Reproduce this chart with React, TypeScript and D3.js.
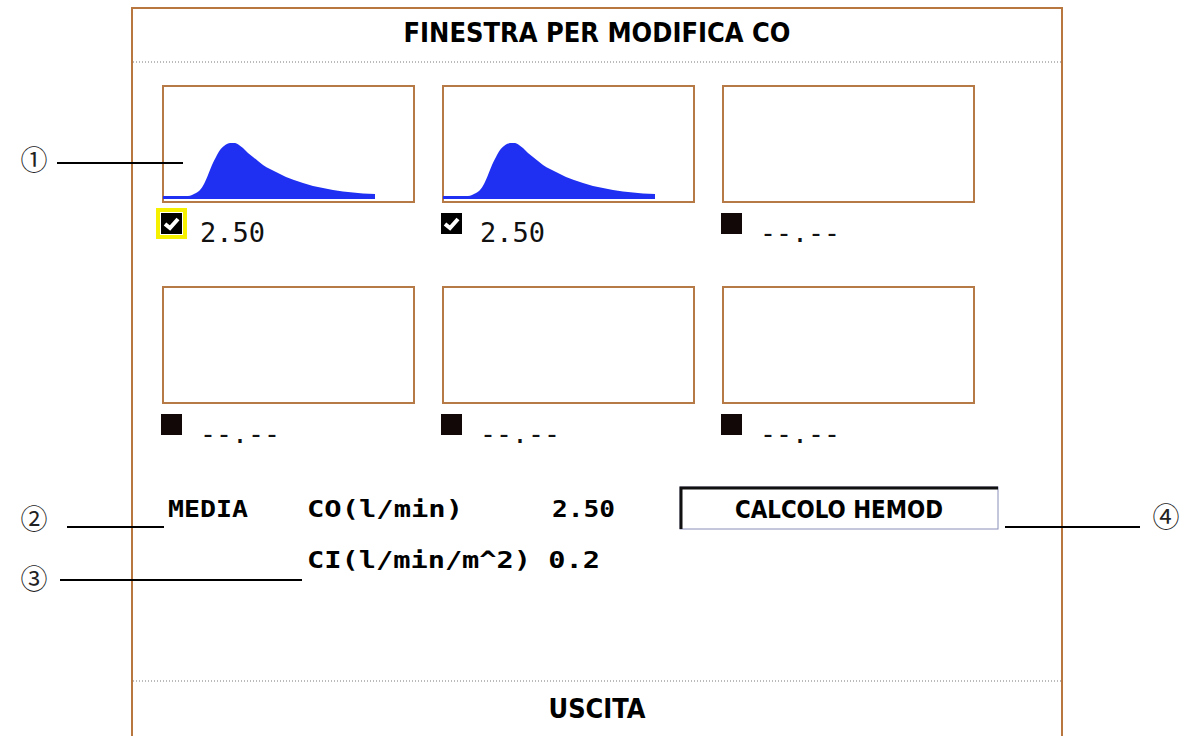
import React from "react";
import * as d3 from "d3";

// ---- data ----
const title = "FINESTRA PER MODIFICA CO";
const exitLabel = "USCITA";
const buttonLabel = "CALCOLO HEMOD";
const curveValues = ["2.50", "2.50", "--.--", "--.--", "--.--", "--.--"];
const curveChecked = [true, true, false, false, false, false];
const curveSelected = [true, false, false, false, false, false];
// thermodilution curve samples (time index, amplitude)
const waveT = [0, 25, 29, 33, 37, 41, 45, 49, 53, 57, 61, 65, 69, 72, 76, 80, 85, 90, 95, 100, 107, 115, 123, 131, 140, 150, 160, 170, 180, 190, 200, 212];
const waveV = [0, 0, 1, 3, 6, 12, 21, 31, 39, 46, 50, 52.5, 53, 53, 51, 48, 43, 39, 35, 31, 27, 23, 19, 16, 13, 10, 8, 6, 4.5, 3.5, 2.5, 2];
const curveHasWave = [true, true, false, false, false, false];
const meanLabel = "MEDIA";
const coLabel = "CO(l/min)";
const coValue = "2.50";
const ciLabel = "CI(l/min/m^2) 0.2";
const callouts = ["①", "②", "③", "④"];

const W = 1184, H = 736;
const frameColor = "#b8773e";
const boxColor = "#b57a45";
const blue = "#1f30f2";

const cols = [163, 443, 723];
const rows = [86, 287];
const boxW = 251, boxH = 116;

const xWave = d3.scaleLinear().domain([0, 250]).range([0, 250]);
const yWave = d3.scaleLinear().domain([0, 53]).range([196, 143]);

const waveData = waveT.map((t, i) => ({ t, v: waveV[i] }));

function Check({ x, y, checked, selected }: any) {
  return (
    <g>
      {selected && <rect x={x - 3} y={y - 3} width={27} height={27} fill="none" stroke="#f4f000" strokeWidth={4} />}
      <rect x={x} y={y} width={21} height={21} fill={checked ? "#000" : "#120808"} />
      {checked && (
        <path d={`M${x + 4},${y + 11} L${x + 9},${y + 15} L${x + 17},${y + 6}`} fill="none" stroke="#fff" strokeWidth={4} />
      )}
    </g>
  );
}

export default function App() {
  const area = d3
    .area<any>()
    .x((d) => xWave(d.t))
    .y0(199)
    .y1((d) => yWave(d.v))
    .curve(d3.curveMonotoneX);

  const headFont = "'DejaVu Sans Condensed', 'DejaVu Sans', sans-serif";
  const monoFont = "'DejaVu Sans Mono', 'Liberation Mono', monospace";

  return (
    <svg width={W} height={H} style={{ position: "absolute", left: 0, top: 0, background: "#fff" }}>
      {/* frame */}
      <path d={`M132,745 L132,8 L1062,8 L1062,745`} fill="none" stroke={frameColor} strokeWidth={2} />
      <text x={597} y={42} textAnchor="middle" fontFamily={headFont} fontWeight="bold" fontSize={26} textLength={387} lengthAdjust="spacingAndGlyphs">{title}</text>
      <line x1={133} x2={1061} y1={62} y2={62} stroke="#777" strokeWidth={1} strokeDasharray="1,2" />

      {curveValues.map((val, i) => {
        const cx = cols[i % 3];
        const cy = rows[Math.floor(i / 3)];
        return (
          <g key={i}>
            <rect x={cx} y={cy} width={boxW} height={boxH} fill="none" stroke={boxColor} strokeWidth={2} />
            {curveHasWave[i] && (
              <g transform={`translate(${cx},${cy - 86})`}>
                <path d={area(waveData) || ""} fill={blue} />
                <line x1={0} x2={xWave(212)} y1={197.5} y2={197.5} stroke={blue} strokeWidth={3} />
              </g>
            )}
            <Check x={cx - 2} y={cy + 127} checked={curveChecked[i]} selected={curveSelected[i]} />
            <text x={cx + 37} y={cy + 156} fontFamily={monoFont} fontSize={26} fill="#111" textLength={val === "2.50" ? 65 : 80} lengthAdjust="spacingAndGlyphs">{val}</text>
          </g>
        );
      })}

      {/* mean section */}
      <text x={168} y={517} fontFamily={monoFont} fontWeight="bold" fontSize={23} textLength={80} lengthAdjust="spacingAndGlyphs">{meanLabel}</text>
      <text x={307} y={517} fontFamily={monoFont} fontWeight="bold" fontSize={23} textLength={156} lengthAdjust="spacingAndGlyphs">{coLabel}</text>
      <text x={552} y={517} fontFamily={monoFont} fontWeight="bold" fontSize={23} textLength={63} lengthAdjust="spacingAndGlyphs">{coValue}</text>
      <text x={307} y={568} fontFamily={monoFont} fontWeight="bold" fontSize={23} textLength={293} lengthAdjust="spacingAndGlyphs">{ciLabel}</text>

      {/* button */}
      <rect x={680} y={487} width={318} height={42} fill="#fff" stroke="#8a90b8" strokeWidth={1} />
      <path d="M681,529 L681,488 L998,488" fill="none" stroke="#111" strokeWidth={3} />
      <text x={839} y={518} textAnchor="middle" fontFamily={headFont} fontWeight="bold" fontSize={24} textLength={208} lengthAdjust="spacingAndGlyphs">{buttonLabel}</text>

      {/* exit */}
      <line x1={133} x2={1061} y1={681} y2={681} stroke="#777" strokeWidth={1} strokeDasharray="1,2" />
      <text x={597} y={718} textAnchor="middle" fontFamily={headFont} fontWeight="bold" fontSize={26} textLength={97} lengthAdjust="spacingAndGlyphs">{exitLabel}</text>

      {/* callouts */}
      <g fontFamily="'Noto Sans CJK JP', 'DejaVu Serif', serif" fontSize={27} textAnchor="middle" fill="#222">
        <text x={34} y={170}>{callouts[0]}</text>
        <text x={34} y={529}>{callouts[1]}</text>
        <text x={34} y={589}>{callouts[2]}</text>
        <text x={1166} y={527}>{callouts[3]}</text>
      </g>
      <g stroke="#000" strokeWidth={2}>
        <line x1={57} x2={183} y1={163} y2={163} />
        <line x1={67} x2={164} y1={527} y2={527} />
        <line x1={60} x2={302} y1={580} y2={580} />
        <line x1={1005} x2={1140} y1={527} y2={527} />
      </g>
    </svg>
  );
}
